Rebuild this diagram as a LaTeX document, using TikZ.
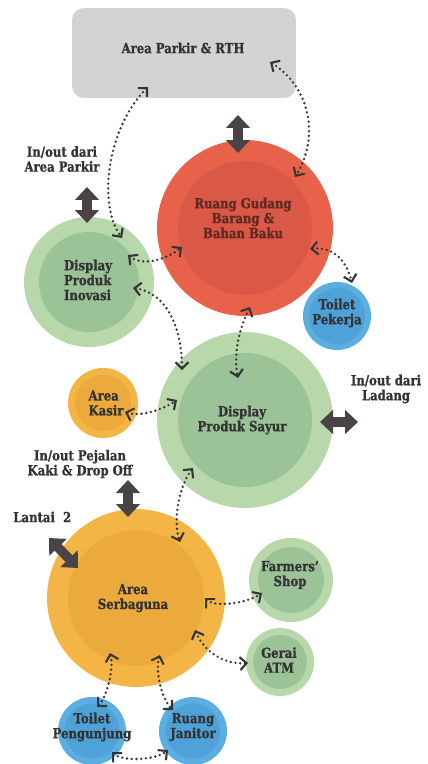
\documentclass[tikz,border=0pt]{standalone}
\usepackage{fontspec}
\setmainfont{DejaVu Serif}[FakeStretch=0.84, BoldFeatures={FakeBold=0.9}]
\usetikzlibrary{arrows.meta}
\definecolor{rectc}{HTML}{D1D3D4}
\definecolor{redO}{HTML}{E8614B}
\definecolor{redI}{HTML}{DA5846}
\definecolor{redT}{HTML}{5E2A23}
\definecolor{grnO}{HTML}{B8D8AB}
\definecolor{grnI}{HTML}{9CC297}
\definecolor{orgO}{HTML}{F3B646}
\definecolor{orgI}{HTML}{EDAA3C}
\definecolor{bluO}{HTML}{5DAEE0}
\definecolor{bluI}{HTML}{4FA2D8}
\definecolor{txtc}{HTML}{333333}
\definecolor{arrc}{HTML}{4A4345}
\definecolor{dotc}{HTML}{353535}
\tikzset{
  disc/.style={circle, inner sep=0pt, minimum size=#1},
  lbl/.style={font=\fontsize{7.9}{8.5}\selectfont\bfseries, text=txtc, align=center, inner sep=0pt},
  bigarrow/.style={draw=arrc, line width=0.19cm,
    {Triangle[length=0.26cm,width=0.47cm]}-{Triangle[length=0.26cm,width=0.47cm]}},
  flow/.style={draw=dotc, line width=1.5pt, dash pattern=on 0pt off 2.7pt, line cap=round,
    {Straight Barb[length=0.13cm,width=0.26cm,line width=1.2pt]}-{Straight Barb[length=0.13cm,width=0.26cm,line width=1.2pt]}}
}
\begin{document}
\begin{tikzpicture}[x=0.02cm,y=-0.02cm]
\useasboundingbox (0,0) rectangle (427,764);
% parking
\node[fill=rectc, rounded corners=0.24cm, minimum width=4.48cm, minimum height=1.8cm, inner sep=0pt] (p) at (184,53) {};
\node[lbl] (pT) at (183,48) {Area Parkir \& RTH};
% gudang
\node[disc=3.52cm, fill=redO] (g) at (245,228) {};
\node[disc=2.68cm, fill=redI] (gI) at (245,228) {};
\node[lbl, text=redT] (gT) at (243,218) {Ruang Gudang\\Barang \&\\Bahan Baku};
% inovasi
\node[disc=2.6cm, fill=grnO] (i) at (89,282) {};
\node[disc=2.0cm, fill=grnI] (iI) at (89,282) {};
\node[lbl, align=left] (iT) at (88,280) {Display\\Produk\\Inovasi};
% toilet pekerja
\node[disc=1.36cm, fill=bluO] (tk) at (337,316) {};
\node[disc=1.12cm, fill=bluI] (tkI) at (337,316) {};
\node[lbl] (tkT) at (337,313) {Toilet\\Pekerja};
% sayur
\node[disc=3.52cm, fill=grnO] (s) at (245,420) {};
\node[disc=2.68cm, fill=grnI] (sI) at (245,420) {};
\node[lbl] (sT) at (242,420) {Display\\Produk Sayur};
% kasir
\node[disc=1.4cm, fill=orgO] (k) at (103,403) {};
\node[disc=1.12cm, fill=orgI] (kI) at (103,403) {};
\node[lbl, align=left] (kT) at (106,403) {Area\\Kasir};
% serbaguna
\node[disc=3.56cm, fill=orgO] (b) at (136,598) {};
\node[disc=2.72cm, fill=orgI] (bI) at (136,598) {};
\node[lbl] (bT) at (133,598) {Area\\Serbaguna};
% farmers
\node[disc=1.68cm, fill=grnO] (f) at (291,580) {};
\node[disc=1.32cm, fill=grnI] (fI) at (291,580) {};
\node[lbl] (fT) at (290,575) {Farmers'\\Shop};
% atm
\node[disc=1.36cm, fill=grnO] (a) at (280,662) {};
\node[disc=1.08cm, fill=grnI] (aI) at (280,662) {};
\node[lbl] (aT) at (279,660) {Gerai\\ATM};
% toilet pengunjung
\node[disc=1.36cm, fill=bluO] (tp) at (92,731) {};
\node[disc=1.1cm, fill=bluI] (tpI) at (92,731) {};
\node[lbl] (tpT) at (92,727) {Toilet\\Pengunjung};
% janitor
\node[disc=1.36cm, fill=bluO] (j) at (193,731) {};
\node[disc=1.1cm, fill=bluI] (jI) at (193,731) {};
\node[lbl] (jT) at (193,727) {Ruang\\Janitor};
% outside labels
\node[lbl] (l1) at (62,159) {In/out dari\\Area Parkir};
\node[lbl] (l2) at (386,389) {In/out dari\\Ladang};
\node[lbl] (l3) at (80,464) {In/out Pejalan\\Kaki \& Drop Off};
\node[lbl, anchor=west] (l4) at (13,517) {Lantai~~2};
% in/out coordinates
\coordinate (gIn) at (238,115);
\coordinate (iIn) at (87,187);
\coordinate (sIn) at (358,422);
\coordinate (bIn) at (128,480);
\coordinate (lIn) at (49,538);
% thick arrows
\draw[bigarrow] (gIn) -- ([shift={(-7,-75)}]g.center);
\draw[bigarrow] (iIn) -- ([shift={(-2,-59)}]i.center);
\draw[bigarrow] (sIn) -- ([shift={(75,2)}]s.center);
\draw[bigarrow] (bIn) -- ([shift={(-8,-81)}]b.center);
\draw[bigarrow] (lIn) -- ([shift={(-58,-30)}]b.center);
% dotted flows
\draw[flow] ([shift={(-36,34)}]p.center) .. controls +(-40,40) and +(-25,-35) .. ([shift={(33,-44)}]i.center);
\draw[flow] ([shift={(86,9)}]p.center) .. controls +(40,25) and +(25,-40) .. ([shift={(50,-51)}]g.center);
\draw[flow] ([shift={(39,-27)}]i.center) .. controls +(15,12) and +(-15,12) .. ([shift={(-63,19)}]g.center);
\draw[flow] ([shift={(65,21)}]g.center) .. controls +(25,-3) and +(-5,-20) .. ([shift={(15,-33)}]tk.center);
\draw[flow] ([shift={(44,6)}]i.center) .. controls +(35,5) and +(0,-40) .. ([shift={(-63,-50)}]s.center);
\draw[flow] ([shift={(5,79)}]g.center) .. controls +(-10,20) and +(-5,-25) .. ([shift={(-7,-42)}]s.center);
\draw[flow] ([shift={(22,9)}]k.center) .. controls +(15,5) and +(-15,10) .. ([shift={(-68,-20)}]s.center);
\draw[flow] ([shift={(-52,48)}]s.center) .. controls +(-12,15) and +(-8,-25) .. ([shift={(44,-56)}]b.center);
\draw[flow] ([shift={(69,0)}]b.center) .. controls +(10,10) and +(-15,10) .. ([shift={(-29,13)}]f.center);
\draw[flow] ([shift={(59,32)}]b.center) .. controls +(8,20) and +(-25,2) .. ([shift={(-32,1)}]a.center);
\draw[flow] ([shift={(-26,55)}]b.center) .. controls +(4,15) and +(10,-10) .. ([shift={(5,-24)}]tp.center);
\draw[flow] ([shift={(24,57)}]b.center) .. controls +(-5,15) and +(-12,-12) .. ([shift={(-20,-21)}]j.center);
\draw[flow] ([shift={(20,21)}]tp.center) .. controls +(10,10) and +(-12,10) .. ([shift={(-25,19)}]j.center);
\end{tikzpicture}
\end{document}
